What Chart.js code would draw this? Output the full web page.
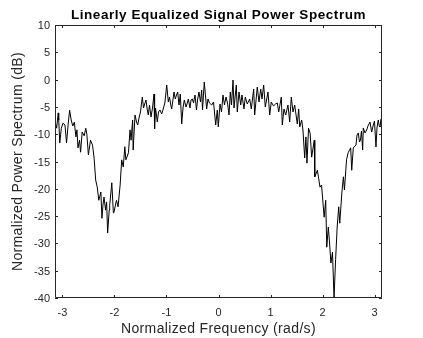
<!DOCTYPE html>
<html>
<head>
<meta charset="utf-8">
<script src="https://cdn.jsdelivr.net/npm/chart.js@4.4.1/dist/chart.umd.min.js"></script>
<style>
  html, body { margin: 0; padding: 0; background: #ffffff; }
  #wrap { width: 423px; height: 338px; position: relative; }
</style>
</head>
<body>
<div id="wrap"><canvas id="spec" width="423" height="338"></canvas></div>
<script>
// Frequency axis samples (rad/s)
const freq = [
  -3.14, -3.11, -3.08, -3.07, -3.05, -3.02, -2.99, -2.95, -2.92, -2.89,
  -2.86, -2.83, -2.80, -2.77, -2.74, -2.72, -2.70, -2.67, -2.65, -2.62,
  -2.58, -2.55, -2.53, -2.50, -2.46, -2.42, -2.39, -2.36, -2.33, -2.30,
  -2.26, -2.24, -2.22, -2.20, -2.17, -2.15, -2.13, -2.10, -2.09, -2.05,
  -2.02, -2.01, -1.96, -1.93, -1.89, -1.86, -1.83, -1.80, -1.78, -1.73,
  -1.70, -1.68, -1.65, -1.64,
  -1.604, -1.575, -1.552, -1.527, -1.499, -1.464, -1.441, -1.412, -1.393, -1.368,
  -1.349, -1.326, -1.297, -1.268, -1.239, -1.228, -1.210, -1.176, -1.153, -1.124,
  -1.091, -1.057, -1.028, -0.995, -0.964, -0.941, -0.913, -0.899, -0.855, -0.830,
  -0.807, -0.784, -0.759, -0.734, -0.707, -0.682, -0.657, -0.624, -0.605, -0.580,
  -0.548, -0.528, -0.503, -0.480, -0.451, -0.423, -0.403, -0.375, -0.346, -0.323,
  -0.307, -0.273, -0.250, -0.227, -0.202, -0.173, -0.131, -0.096, -0.054, -0.023,
  -0.004, 0.029, 0.058, 0.086, 0.115, 0.144, 0.173, 0.202, 0.227, 0.250,
  0.279, 0.298, 0.342, 0.361, 0.394, 0.427, 0.451, 0.490, 0.515, 0.553,
  0.599, 0.630, 0.676, 0.695, 0.745, 0.778, 0.811, 0.836, 0.868, 0.899,
  0.951, 0.984, 1.014, 1.057, 1.095, 1.130, 1.157, 1.207, 1.226, 1.258,
  1.291, 1.335, 1.368, 1.399, 1.431, 1.464, 1.514, 1.541, 1.560, 1.598,
  1.623, 1.656,
  1.68, 1.70, 1.73, 1.76, 1.79, 1.84, 1.85, 1.90, 1.95, 1.98,
  2.03, 2.06, 2.08, 2.11, 2.13, 2.16, 2.19, 2.22, 2.25, 2.28,
  2.31, 2.33, 2.37, 2.40, 2.42, 2.46, 2.49, 2.54, 2.56, 2.59,
  2.642, 2.661, 2.686, 2.709, 2.728, 2.747, 2.770, 2.782, 2.815, 2.847,
  2.872, 2.911, 2.943, 2.974, 2.997, 3.026, 3.045, 3.070, 3.088, 3.103,
  3.122, 3.141
];

// Normalized power spectrum (dB)
const powerDb = [
  -7.6, -8.9, -6.1, -7.4, -11.6, -8.9, -8.0, -8.3, -11.6, -8.3,
  -5.6, -7.4, -8.5, -7.8, -10.5, -9.2, -12.5, -11.1, -13.3, -9.6,
  -10.3, -8.9, -10.0, -13.8, -11.1, -12.0, -14.4, -18.4, -19.7, -22.1,
  -20.6, -25.4, -23.0, -21.5, -23.9, -22.4, -28.1, -23.9, -23.0, -18.9,
  -24.4, -24.3, -22.1, -23.3, -19.3, -14.7, -16.0, -12.3, -14.7, -13.4,
  -9.2, -11.1, -7.4, -12.9,
  -6.48, -7.77, -8.31, -7.03, -5.93, -3.19, -5.20, -4.28, -3.74, -5.57,
  -6.48, -4.65, -6.85, -5.20, -2.64, -9.05, -5.20, -7.77, -5.93, -5.57,
  -6.30, -5.20, -4.10, -0.99, -4.10, -3.19, -4.83, -5.38, -2.27, -3.55,
  -2.82, -2.27, -4.65, -2.64, -8.13, -5.20, -3.74, -5.02, -4.47, -3.55,
  -5.20, -3.74, -3.55, -4.28, -2.82, -5.57, -3.74, -2.27, -4.10, -1.90,
  -5.57, -0.44, -3.00, -5.38, -3.55, -4.28, -4.65, -4.10, -8.31, -5.57,
  -8.68, -4.47, -5.93, -2.82, -4.65, -3.19, -4.28, -6.48, -2.27, -4.65,
  -0.07, -5.20, -0.99, -5.93, -2.27, -4.65, -2.82, -5.38, -3.19, -4.47,
  -3.55, -5.38, -1.72, -6.48, -1.36, -4.10, -1.72, -3.55, -0.99, -5.02,
  -2.27, -6.48, -4.10, -4.83, -4.47, -4.28, -5.93, -3.19, -8.31, -5.38,
  -6.48, -4.65, -7.77, -3.19, -5.93, -4.65, -8.13, -5.38, -8.68, -7.40,
  -9.23, -14.36,
  -10.5, -15.3, -8.9, -9.8, -14.2, -11.1, -17.8, -16.6, -19.7, -19.3,
  -25.2, -22.1, -30.7, -27.0, -29.4, -33.6, -31.6, -40.0, -33.0, -27.0,
  -23.3, -26.3, -20.8, -17.8, -20.2, -14.7, -13.4, -12.5, -16.6, -12.5,
  -11.98, -10.15, -9.78, -11.43, -11.06, -9.41, -12.89, -8.86, -9.78, -9.23,
  -8.50, -7.77, -9.60, -8.31, -7.58, -12.34, -8.86, -7.40, -8.50, -8.68,
  -7.21, -7.03
];

const xTicks = [-3, -2, -1, 0, 1, 2, 3];
const yTicks = [10, 5, 0, -5, -10, -15, -20, -25, -30, -35, -40];

const titleText = 'Linearly Equalized Signal Power Spectrum';
const xLabel = 'Normalized Frequency (rad/s)';
const yLabel = 'Normalized Power Spectrum (dB)';

const points = freq.map((f, i) => ({ x: f, y: powerDb[i] }));

const axisColor = '#262626';
const fontFamily = '"Liberation Sans", Arial, Helvetica, sans-serif';

// Box around the plot area, inward tick marks on all four sides, title and axis labels
const frame = {
  id: 'frame',
  afterDraw(chart) {
    const { ctx, chartArea: a, scales } = chart;
    const len = 3;
    ctx.save();
    ctx.strokeStyle = axisColor;
    ctx.lineWidth = 1;
    ctx.beginPath();
    ctx.rect(a.left + 0.5, a.top + 0.5, a.right - a.left - 1, a.bottom - a.top - 1);
    xTicks.forEach(v => {
      const px = Math.round(scales.x.getPixelForValue(v)) + 0.5;
      ctx.moveTo(px, a.bottom); ctx.lineTo(px, a.bottom - len);
      ctx.moveTo(px, a.top); ctx.lineTo(px, a.top + len);
    });
    yTicks.forEach(v => {
      const py = Math.round(scales.y.getPixelForValue(v)) + 0.5;
      ctx.moveTo(a.left, py); ctx.lineTo(a.left + len, py);
      ctx.moveTo(a.right, py); ctx.lineTo(a.right - len, py);
    });
    ctx.stroke();

    const cx = (a.left + a.right) / 2;
    const cy = (a.top + a.bottom) / 2;
    ctx.textAlign = 'center';
    ctx.textBaseline = 'alphabetic';

    ctx.fillStyle = '#000000';
    ctx.font = 'bold 13.5px ' + fontFamily;
    ctx.letterSpacing = '0.55px';
    ctx.fillText(titleText, cx, 18.5);

    ctx.fillStyle = axisColor;
    ctx.font = '14px ' + fontFamily;
    ctx.letterSpacing = '0.35px';
    ctx.fillText(xLabel, cx, 332.5);

    ctx.translate(22, cy);
    ctx.rotate(-Math.PI / 2);
    ctx.fillText(yLabel, 0, 0);
    ctx.restore();
  }
};

new Chart(document.getElementById('spec'), {
  type: 'line',
  data: {
    datasets: [{
      data: points,
      borderColor: '#000000',
      borderWidth: 1,
      pointRadius: 0,
      tension: 0,
      fill: false
    }]
  },
  options: {
    responsive: false,
    animation: false,
    layout: { padding: { top: 25, right: 41, left: 0, bottom: 0 } },
    plugins: {
      legend: { display: false },
      tooltip: { enabled: false },
      title: { display: false }
    },
    scales: {
      x: {
        type: 'linear',
        min: -Math.PI,
        max: Math.PI,
        afterBuildTicks: s => { s.ticks = xTicks.map(v => ({ value: v })); },
        afterFit: s => { s.height = 40; },
        grid: { display: false, drawTicks: false },
        border: { display: false },
        ticks: {
          color: axisColor,
          padding: 8,
          maxRotation: 0,
          font: { family: fontFamily, size: 11 }
        }
      },
      y: {
        type: 'linear',
        min: -40,
        max: 10,
        afterBuildTicks: s => { s.ticks = yTicks.map(v => ({ value: v })); },
        afterFit: s => { s.width = 55; },
        grid: { display: false, drawTicks: false },
        border: { display: false },
        ticks: {
          color: axisColor,
          padding: 5,
          labelOffset: 1,
          font: { family: fontFamily, size: 11 }
        }
      }
    }
  },
  plugins: [frame]
});
</script>
</body>
</html>
